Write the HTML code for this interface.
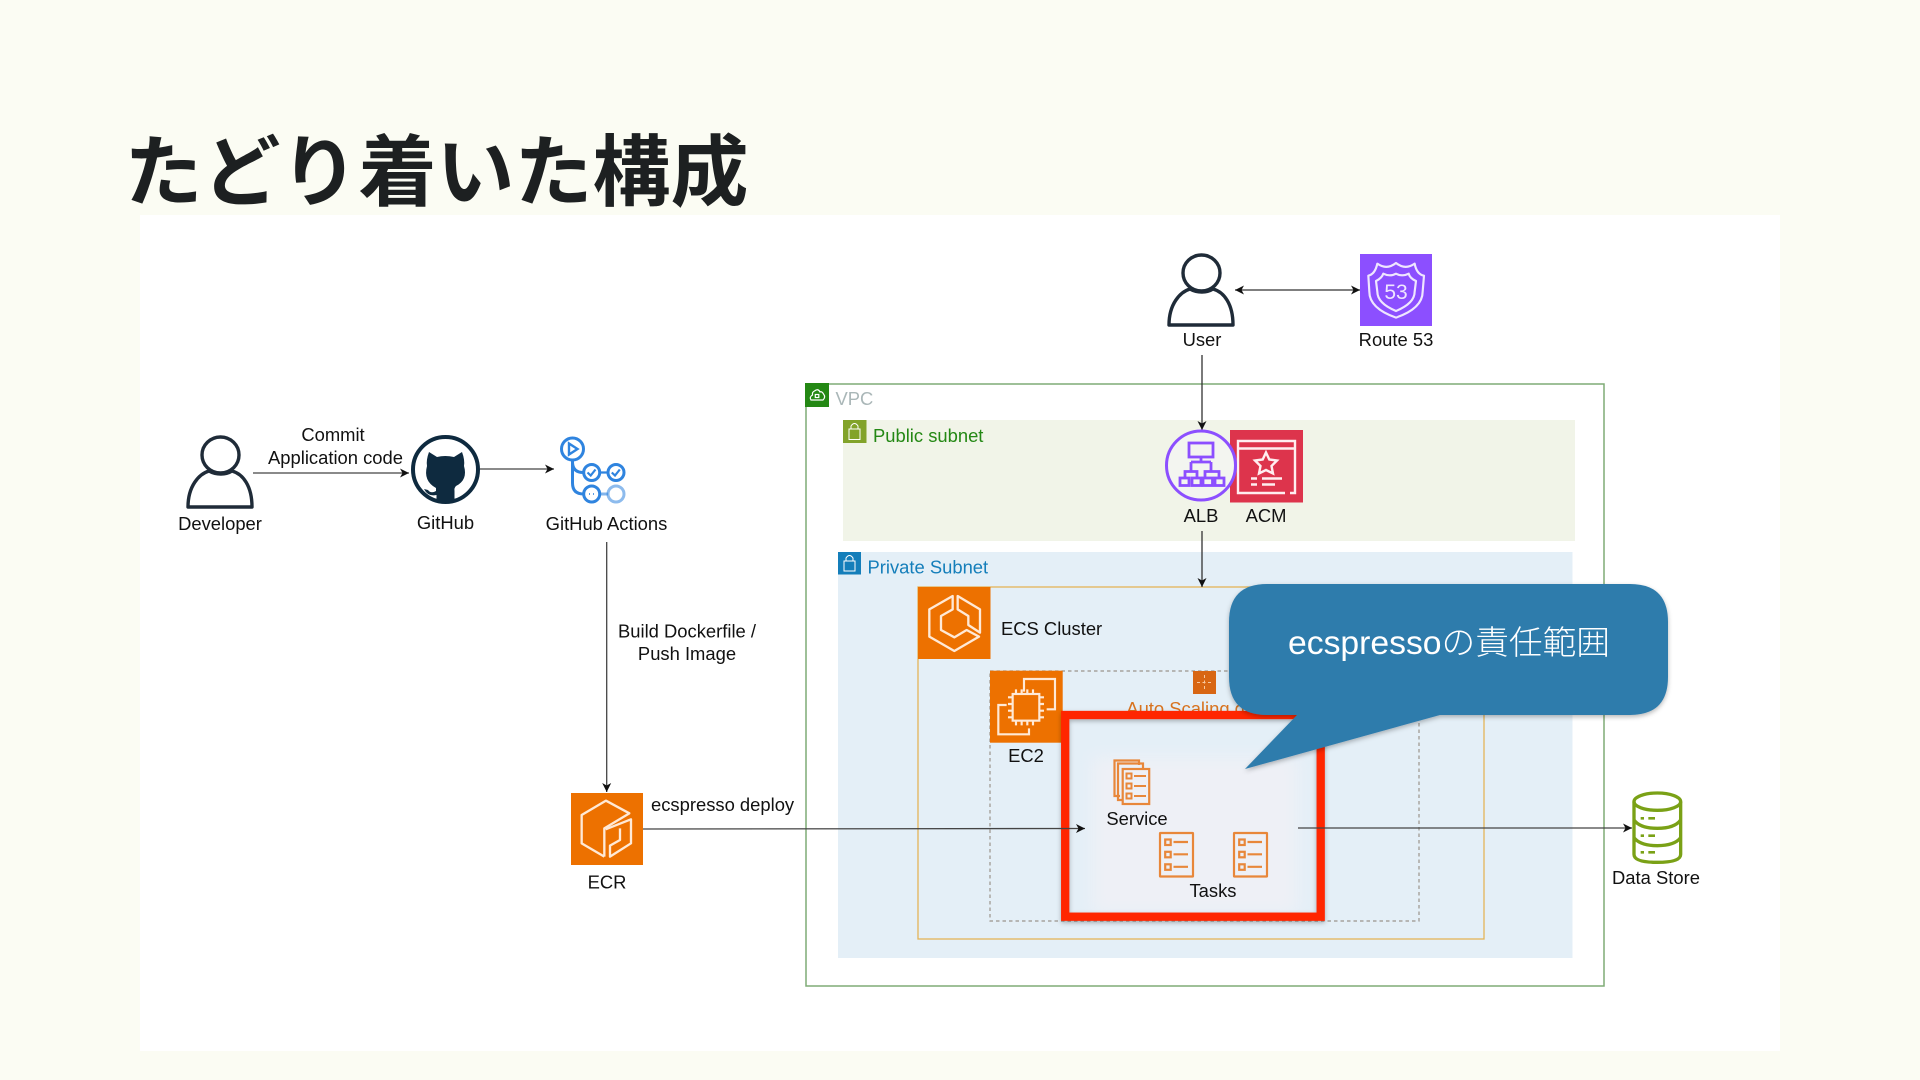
<!DOCTYPE html>
<html lang="ja"><head><meta charset="utf-8"><title>たどり着いた構成</title>
<style>html,body{margin:0;padding:0;background:#fbfcf3;width:1920px;height:1080px;overflow:hidden}
svg{display:block;filter:blur(.35px)}
text{font-family:"Liberation Sans","Noto Sans CJK JP",sans-serif;font-size:18.4px;fill:#111}
.m{text-anchor:middle}
</style></head><body>
<svg width="1920" height="1080" viewBox="0 0 1920 1080" xmlns="http://www.w3.org/2000/svg">
<defs>
<marker id="a" markerUnits="userSpaceOnUse" markerWidth="12" markerHeight="12" refX="10" refY="6" orient="auto"><path d="M1 1.5L10 6L1 10.5L3.5 6Z" fill="#111"/></marker>
<marker id="b" markerUnits="userSpaceOnUse" markerWidth="12" markerHeight="12" refX="2" refY="6" orient="auto"><path d="M11 1.5L2 6L11 10.5L8.5 6Z" fill="#111"/></marker>
<filter id="s" x="-10%" y="-10%" width="120%" height="120%"><feDropShadow dx="0" dy="2" stdDeviation="2.5" flood-color="#000" flood-opacity=".28"/></filter>
<filter id="sb" x="-10%" y="-10%" width="120%" height="120%"><feGaussianBlur stdDeviation="8"/></filter>
<g id="doc" fill="none" stroke="#e8873a" stroke-width="2.200"><rect x="0" y="0" width="33" height="43.5" rx=".5"/><rect x="5.2" y="6.5" width="5.5" height="5.5"/><rect x="5.2" y="18.8" width="5.5" height="5.5"/><rect x="5.2" y="31.3" width="5.5" height="5.5"/><path d="M13.5 9H28M13.5 21.3H28M13.5 33.8H28"/></g>
<g id="person" fill="none" stroke="#1f2b38" stroke-width="3.400"><ellipse cx="220.500" cy="455" rx="18.500" ry="18"/><path d="M188 507C188 486 199 474 209 471C216 475 226 475 232 471C243 474 252 486 252 507Z" stroke-linejoin="round"/></g>
</defs>
<rect width="1920" height="1080" fill="#fbfcf3"/>
<rect x="140" y="215" width="1640" height="836" fill="#fff"/>
<text x="124.500" y="199.500" style="font-size:78px;font-weight:700;fill:#1d2021">たどり着いた構成</text>

<!-- Developer / GitHub / Actions -->
<use href="#person"/>
<text x="220" y="530" class="m">Developer</text>
<line x1="253" y1="473" x2="409" y2="473" stroke="#444" stroke-width="1.300" marker-end="url(#a)"/>
<text x="333" y="441" class="m">Commit</text>
<text x="335.500" y="464" class="m">Application code</text>
<circle cx="445.500" cy="469.500" r="32.500" fill="#fff" stroke="#0e2a3f" stroke-width="4"/>
<path d="M429 452L437 457Q445 455 454 457L462 452Q465 460 464 466Q468 480 456 486Q454 488 454.500 491V502Q445 504 436.500 502V495Q428 497 424 489L428 490Q431 494 436 491V488Q423 481 427 466Q426 460 429 452Z" fill="#0e2a3f"/>
<text x="445.500" y="529" class="m">GitHub</text>
<line x1="480" y1="469" x2="554" y2="469" stroke="#444" stroke-width="1.300" marker-end="url(#a)"/>
<g fill="none" stroke="#2f84df" stroke-width="3">
<circle cx="572.500" cy="449" r="11"/><path d="M569 443.500L577.500 449L569 454.500Z" stroke-width="2.400"/>
<path d="M572.500 460V483Q572.500 494 583.500 494M572.500 462Q572.500 472.500 583.500 472.500"/>
<circle cx="591.700" cy="472.500" r="8"/><circle cx="616" cy="472.500" r="8"/><path d="M599.700 472.500H608M587.500 472.500L590.700 475.500L595.500 469.500M611.800 472.500L615 475.500L619.800 469.500" stroke-width="2.200"/>
<circle cx="591.700" cy="494" r="8"/><path d="M589 494h.8M593 494h.8" stroke-width="2"/>
<path d="M599.700 494H608" opacity=".6"/><circle cx="616" cy="494" r="8" opacity=".55"/></g>
<text x="606.500" y="530" class="m">GitHub Actions</text>
<line x1="606.700" y1="542" x2="606.700" y2="792" stroke="#444" stroke-width="1.300" marker-end="url(#a)"/>
<text x="687" y="637.500" class="m">Build Dockerfile /</text>
<text x="687" y="660" class="m">Push Image</text>

<!-- ECR -->
<rect x="571" y="793" width="72" height="72" fill="#ed7100"/>
<g transform="translate(540 760) scale(.3333)" fill="none" stroke="#ffe9d6" stroke-width="7" stroke-linejoin="round"><path d="M193 290L125 250V165L198 122L268 160L193 205V290"/><path d="M197 208L273 178V250L210 290V257L240 240V205"/></g>
<text x="607" y="888.500" class="m">ECR</text>
<text x="651" y="811">ecspresso deploy</text>

<!-- VPC -->
<rect x="806" y="384" width="798" height="602" fill="#fff" stroke="#7fab76" stroke-width="1.500"/>
<rect x="805" y="383" width="24" height="24" fill="#248814"/>
<g fill="none" stroke="#fff" stroke-width="1.200"><path d="M811 400H823Q826 397 823.500 394Q822 391 820 392Q818 388 814.500 391Q812 392 812.500 395Q809 397 811 400Z"/><rect x="815.300" y="394.500" width="3.500" height="3"/></g>
<text x="835.500" y="405" style="fill:#aab7b8">VPC</text>

<rect x="843" y="420" width="732" height="121" fill="#f1f4e8"/>
<rect x="843" y="420" width="23.500" height="23" fill="#82a32a"/>
<g fill="none" stroke="#fff" stroke-width="1"><rect x="849" y="429" width="11" height="10.500"/><path d="M851 429V426Q854.500 421 858 426V429"/></g>
<text x="873" y="442" style="fill:#248814">Public subnet</text>

<rect x="838" y="552" width="734.500" height="406" fill="#e4eff7"/>
<rect x="838" y="552" width="23" height="22.500" fill="#147eba"/>
<g fill="none" stroke="#fff" stroke-width="1"><rect x="844" y="561" width="11" height="10"/><path d="M846 561V558Q849.500 553 853 558V561"/></g>
<text x="867.500" y="573.500" style="fill:#147eba">Private Subnet</text>

<!-- ECS cluster -->
<rect x="918" y="587" width="566" height="352" fill="none" stroke="#e3b458" stroke-width="1.300"/>
<rect x="918" y="587" width="72.500" height="72" fill="#ed7100"/>
<g transform="translate(910 580) scale(.3333)" fill="none" stroke="#ffe9d6" stroke-width="7" stroke-linejoin="round"><path d="M128 48L58 88V170L133 213L207 170L170 150L133 172L93 150V108L128 88Z"/><path d="M143 48L210 88V158L175 135V108L143 88Z"/></g>
<text x="1001" y="635">ECS Cluster</text>

<!-- ASG -->
<rect x="990" y="671" width="429" height="250" fill="none" stroke="#9b948c" stroke-width="1.200" stroke-dasharray="3.500 3"/>
<rect x="990" y="670.700" width="72.700" height="72" fill="#ed7100"/>
<g transform="translate(910 580) scale(.3333)" fill="none" stroke="#ffe9d6" stroke-width="6.500"><rect x="308" y="342" width="80" height="80"/><path d="M342 335V297H435V388H410M290 375H265V463H357V445M318 342V328M335 342V328M352 342V328M369 342V328M318 422V436M335 422V436M352 422V436M369 422V436M308 352H294M308 372H294M308 392H294M308 412H294M388 352H402M388 372H402M388 392H402M388 412H402"/></g>
<text x="1026" y="762" class="m">EC2</text>
<rect x="1193" y="671" width="23" height="23" fill="#d86613"/>
<path d="M1204.500 675V690M1197 682.500H1212" stroke="#f7c9a0" stroke-width="1" stroke-dasharray="3 2.500"/>
<text x="1204" y="715" class="m" style="fill:#d8731f">Auto Scaling group</text>

<!-- Red area -->
<rect x="1065" y="715" width="256" height="202" fill="#e4eff7"/>
<rect x="1092" y="757" width="206" height="156" fill="#eef0f6" filter="url(#sb)"/>
<rect x="1065.200" y="715" width="255.500" height="201.700" fill="none" stroke="#ff2600" stroke-width="8.300" filter="url(#s)"/>

<!-- Service / tasks -->
<g fill="none" stroke="#e8873a" stroke-width="2.200"><path d="M1120 796H1114.500V760.500H1139V765"/><path d="M1123 800H1118V763.500H1143V768"/></g>
<rect x="1122.700" y="769" width="26.500" height="35" fill="#eef0f6" stroke="#e8873a" stroke-width="2.200"/>
<g fill="none" stroke="#e8873a" stroke-width="2"><rect x="1126.500" y="773.500" width="5" height="5"/><rect x="1126.500" y="783.500" width="5" height="5"/><rect x="1126.500" y="793.500" width="5" height="5"/><path d="M1134 776H1146M1134 786H1146M1134 796H1146"/></g>
<text x="1137" y="825" class="m">Service</text>
<use href="#doc" x="1160" y="833"/><use href="#doc" x="1234" y="833"/>
<text x="1213" y="897" class="m">Tasks</text>

<line x1="643" y1="829" x2="1085" y2="828.500" stroke="#444" stroke-width="1.300" marker-end="url(#a)"/>
<line x1="1298" y1="828" x2="1632" y2="828" stroke="#444" stroke-width="1.300" marker-end="url(#a)"/>

<!-- User / Route53 -->
<use href="#person" transform="translate(981 -182)"/>
<text x="1202" y="346" class="m">User</text>
<line x1="1235" y1="290" x2="1360" y2="290" stroke="#333" stroke-width="1.300" marker-start="url(#b)" marker-end="url(#a)"/>
<rect x="1360" y="254" width="72" height="72" fill="#8c4fff"/>
<g transform="translate(1350 245) scale(.3333)" fill="none" stroke="#efe6ff" stroke-width="6.500" stroke-linejoin="round"><path d="M55 92Q75 88 82 56Q110 76 138 54Q166 76 194 56Q200 88 222 92L218 140Q218 190 138 218Q58 190 58 140Z"/><path d="M78 108Q95 100 100 86Q120 96 138 86Q156 96 176 86Q180 100 198 108L194 140Q194 175 138 198Q82 175 82 140Z"/></g>
<text x="1396" y="299" class="m" style="font-size:21px;fill:#efe6ff">53</text>
<text x="1396" y="346" class="m">Route 53</text>

<line x1="1202" y1="355" x2="1202" y2="430" stroke="#333" stroke-width="1.300" marker-end="url(#a)"/>
<line x1="1202" y1="531" x2="1202" y2="587" stroke="#333" stroke-width="1.300" marker-end="url(#a)"/>

<!-- ACM -->
<rect x="1230" y="430" width="73" height="72.500" fill="#dd344c"/>
<g fill="none" stroke="#ffeef0" stroke-width="2.400"><path d="M1295 489V441H1238V493H1285M1290 493H1295V489M1238 448.500H1295"/><path d="M1266 452.500L1269.300 459.500L1277 460.500L1271.500 466L1273 473.500L1266 470L1259 473.500L1260.500 466L1255 460.500L1262.700 459.500Z"/><path d="M1251 478.500H1257M1262 478.500H1282M1251 484.500H1257M1262 484.500H1275"/></g>
<text x="1266" y="522" class="m">ACM</text>

<!-- ALB -->
<circle cx="1201" cy="465.500" r="34.500" fill="#f3f5f0" stroke="#8c4fff" stroke-width="3"/>
<g fill="none" stroke="#8c4fff" stroke-width="2.800"><rect x="1189" y="443" width="24" height="14"/><path d="M1201 457V462M1191 462H1211M1191 462V471.500M1211 462V471.500M1185 478V471.500H1197V478M1205 478V471.500H1219V478"/><rect x="1180" y="478" width="9" height="7.500"/><rect x="1192" y="478" width="9" height="7.500"/><rect x="1203" y="478" width="9.500" height="7.500"/><rect x="1215" y="478" width="9" height="7.500"/></g>
<text x="1201" y="522" class="m">ALB</text>

<!-- Data store -->
<g fill="none" stroke="#7aa116" transform="translate(1620 785) scale(.3333)"><ellipse cx="112" cy="50" rx="70" ry="26" stroke-width="10"/><path d="M42 50V208Q42 232 112 232Q182 232 182 208V50M42 105Q60 130 112 130Q164 130 182 105M42 158Q60 182 112 182Q164 182 182 158" stroke-width="10"/><path d="M62 100H72M85 100H105M62 152H72M85 152H105M62 202H72M85 202H105" stroke-width="8"/></g>
<text x="1656" y="884" class="m">Data Store</text>

<!-- Callout -->
<path d="M1267 584H1630Q1668 584 1668 622V677Q1668 715 1630 715H1440L1245 769L1297 715H1267Q1229 715 1229 677V622Q1229 584 1267 584Z" fill="#2f7bac" filter="url(#s)"/>
<text x="1449" y="654" class="m" textLength="322" lengthAdjust="spacingAndGlyphs" style="font-size:33px;fill:#fff;font-weight:300">ecspressoの責任範囲</text>
</svg>
</body></html>
